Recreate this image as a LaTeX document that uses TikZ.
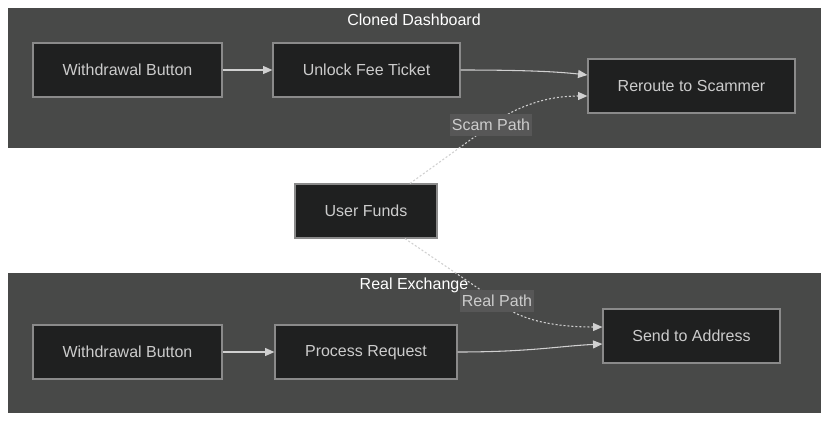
\documentclass[tikz,border=0pt]{standalone}
\usepackage{fontspec}
\setmainfont{Liberation Sans}
\usetikzlibrary{arrows.meta}
\definecolor{clusterbg}{HTML}{484948}
\definecolor{nodebg}{HTML}{1F2020}
\definecolor{nodeline}{HTML}{8A8A8A}
\definecolor{txt}{HTML}{CCCCCC}
\definecolor{edgec}{HTML}{D0D0D0}
\definecolor{lblbg}{HTML}{575757}
\begin{document}
\begin{tikzpicture}[x=0.75pt,y=-0.75pt,
  cluster/.style={fill=clusterbg,draw=none},
  box/.style={fill=nodebg,draw=nodeline,line width=0.9pt,text=txt,font=\fontsize{12}{14}\selectfont},
  ctitle/.style={text=white,font=\fontsize{12}{14}\selectfont},
  flow/.style={draw=edgec,line width=0.8pt,-{Triangle[length=7pt,width=6pt]}},
  scam/.style={draw=edgec,line width=0.8pt,dash pattern=on 1.5pt off 1.5pt,-{Triangle[length=7pt,width=6pt]}},
  elabel/.style={fill=lblbg,text=txt,inner xsep=1.5pt,inner ysep=3.5pt,font=\fontsize{12}{14}\selectfont}]
\useasboundingbox (0,0) rectangle (829,422);
\fill[white] (0,0) rectangle (829,422);
% clusters
\fill[cluster] (8,8) rectangle (821,148);
\node[ctitle] (t1) at (414,20) {Cloned Dashboard};
\fill[cluster] (8,273) rectangle (821,413);
\node[ctitle] (t2) at (414,285) {Real Exchange};
% nodes
\node[box,minimum width=189*0.75pt,minimum height=54*0.75pt] (wb1) at (127.5,70) {Withdrawal Button};
\node[box,minimum width=187*0.75pt,minimum height=54*0.75pt] (uft) at (366.5,70) {Unlock Fee Ticket};
\node[box,minimum width=207*0.75pt,minimum height=54*0.75pt] (rts) at (691.5,86) {Reroute to Scammer};
\node[box,minimum width=142*0.75pt,minimum height=54*0.75pt] (uf) at (366,211) {User Funds};
\node[box,minimum width=189*0.75pt,minimum height=54*0.75pt] (wb2) at (127.5,352) {Withdrawal Button};
\node[box,minimum width=182*0.75pt,minimum height=54*0.75pt,text depth=0.2em] (pr) at (366,352) {Process Request};
\node[box,minimum width=177*0.75pt,minimum height=54*0.75pt] (sta) at (691.5,336) {Send to Address};
% edges
\draw[flow] (wb1) -- (uft);
\draw[flow] (uft.east) .. controls (530,70) and (560,72) .. (rts.west |- 0,75);
\draw[flow] (wb2) -- (pr);
\draw[flow] (pr.east) .. controls (530,352) and (560,346) .. (sta.west |- 0,344);
\coordinate (sp) at (491,125);
\coordinate (rp) at (497,301);
\draw[scam,arrows=-] (uf.north -| 410,0) -- (sp);
\draw[scam] (sp) .. controls (520,104) and (550,96) .. (rts.west |- 0,96);
\draw[scam,arrows=-] (uf.south -| 405,0) -- (rp);
\draw[scam] (rp) .. controls (520,322) and (560,327) .. (sta.west |- 0,327);
\node[elabel] (lsp) at (sp) {Scam Path};
\node[elabel] (lrp) at (rp) {Real Path};
\end{tikzpicture}
\end{document}
